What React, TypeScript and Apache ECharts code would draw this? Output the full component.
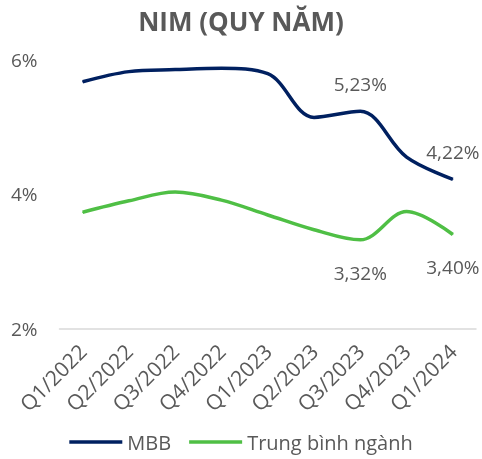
import React, { useEffect, useRef } from "react";
import * as echarts from "echarts";

const categories = ["Q1/2022", "Q2/2022", "Q3/2022", "Q4/2022", "Q1/2023", "Q2/2023", "Q3/2023", "Q4/2023", "Q1/2024"];
const mbb = [5.67, 5.82, 5.85, 5.87, 5.79, 5.14, 5.23, 4.55, 4.22];
const industry = [3.73, 3.9, 4.03, 3.91, 3.69, 3.47, 3.32, 3.74, 3.4];
const labelIdx = [6, 8];
const yTicks = [2, 4, 6];

const FONT = "Open Sans";
const GRAY = "#595959";

export default function App() {
  const ref = useRef<HTMLDivElement>(null);
  useEffect(() => {
    const chart = echarts.init(ref.current!, null, { renderer: "svg" });
    const fmt = (p: any) =>
      labelIdx.includes(p.dataIndex) ? p.value.toFixed(2).replace(".", ",") + "%" : "";
    chart.setOption({
      animation: false,
      textStyle: { fontFamily: FONT },
      title: {
        text: "NIM (QUY NĂM)",
        left: "center",
        top: 3,
        textStyle: { fontFamily: FONT, fontSize: 26, fontWeight: "bold", color: GRAY },
      },
      grid: { left: 59.5, right: 6, top: 59.5, bottom: 130.3, containLabel: false },
      xAxis: {
        type: "category",
        data: categories,
        boundaryGap: true,
        axisLine: { show: true, lineStyle: { color: "#d9d9d9", width: 1.5 } },
        axisTick: { show: false },
        axisLabel: { rotate: 45, color: GRAY, fontSize: 21, fontFamily: FONT, margin: 19, interval: 0 },
      },
      yAxis: {
        type: "value",
        min: yTicks[0],
        max: yTicks[yTicks.length - 1],
        interval: 2,
        axisLine: { show: false },
        axisTick: { show: false },
        splitLine: { show: false },
        axisLabel: {
          color: GRAY,
          fontSize: 19,
          fontFamily: FONT,
          margin: 22,
          formatter: (v: number) => v + "%",
        },
      },
      legend: {
        bottom: 2,
        left: "center",
        icon: "rect",
        itemWidth: 53,
        itemHeight: 3.5,
        itemGap: 18,
        textStyle: { color: GRAY, fontSize: 20, fontFamily: FONT },
        data: ["MBB", "Trung bình ngành"],
      },
      series: [
        {
          name: "MBB",
          type: "line",
          data: mbb,
          smooth: 0.35,
          showSymbol: true,
          symbol: "circle",
          symbolSize: 1,
          lineStyle: { color: "#002060", width: 3.5 },
          itemStyle: { color: "#002060" },
          label: {
            show: true,
            position: "top",
            distance: 17,
            formatter: fmt,
            color: GRAY,
            fontSize: 19,
            fontFamily: FONT,
          },
        },
        {
          name: "Trung bình ngành",
          type: "line",
          data: industry,
          smooth: 0.35,
          showSymbol: true,
          symbol: "circle",
          symbolSize: 1,
          lineStyle: { color: "#4fbf45", width: 3.5 },
          itemStyle: { color: "#4fbf45" },
          label: {
            show: true,
            position: "bottom",
            distance: 23,
            formatter: fmt,
            color: GRAY,
            fontSize: 19,
            fontFamily: FONT,
          },
        },
      ],
    });
    return () => chart.dispose();
  }, []);
  return (
    <div
      ref={ref}
      style={{ position: "fixed", left: 0, top: 0, width: 482, height: 459 }}
    />
  );
}
